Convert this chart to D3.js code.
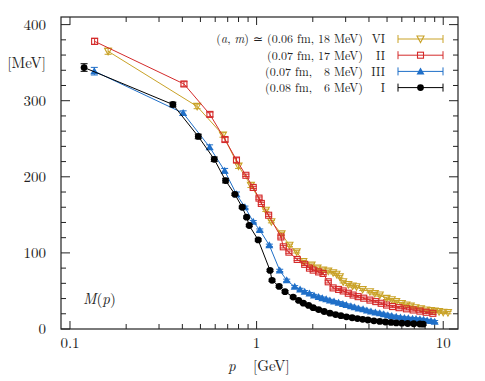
<!DOCTYPE html>
<html>
<head>
<meta charset="utf-8">
<script src="https://cdn.jsdelivr.net/npm/d3@7"></script>
<style>
body{margin:0;background:#fff;}
text{font-family:"Latin Modern Roman","CMU Serif","Liberation Serif",serif;fill:#222;}
</style>
</head>
<body>
<div id="chart"></div>
<script>
// momentum p [GeV] and mass function M(p) [MeV]
var pVI = [0.16, 0.48, 0.66, 0.80, 0.932, 1.12, 1.2, 1.36, 1.5, 1.64, 1.78, 1.97, 2.12, 2.27, 2.42, 2.57, 2.68, 2.79, 2.91, 3.1, 3.27, 3.43, 3.7, 4.05, 4.3, 4.57, 4.97, 5.3, 5.6, 6.0, 6.35, 6.7, 7.1, 7.6, 8.1, 8.6, 9.0, 9.5, 10.0, 10.6];
var mVI = [365, 292.5, 255, 214, 189, 156, 141, 125, 110, 101.4, 88.5, 84, 80, 77.4, 76, 74, 72, 68.6, 62, 58.5, 56.5, 55.5, 52, 49, 46.5, 44.6, 40.3, 38.5, 36, 33.5, 31.5, 30, 28, 26.5, 25, 24.2, 23.5, 22.8, 22, 21.5];

var pII = [0.1355, 0.408, 0.562, 0.677, 0.78, 0.876, 0.959, 1.03, 1.06, 1.16, 1.35, 1.39, 1.49, 1.65, 1.81, 1.92, 2.01, 2.15, 2.27, 2.42, 2.57, 2.75, 2.91, 3.1, 3.29, 3.5, 3.75, 4.05, 4.35, 4.65, 4.97, 5.35, 5.8, 6.35, 6.9, 7.5, 8.1, 8.8];
var mII = [378, 322, 282, 249, 222, 202, 186, 172, 165, 149.5, 121, 108, 101, 91.4, 85, 80, 77.4, 75, 73, 62, 54, 52, 50, 47, 44.6, 42.5, 40.5, 38, 36, 33.8, 31.5, 29.5, 28, 26.5, 25, 23.5, 22, 20.6];

var pIII = [0.135, 0.404, 0.56, 0.674, 0.78, 0.866, 0.959, 1.04, 1.17, 1.33, 1.45, 1.6, 1.71, 1.81, 1.92, 2.03, 2.15, 2.25, 2.36, 2.47, 2.6, 2.75, 2.9, 3.03, 3.2, 3.35, 3.52, 3.72, 3.9, 4.1, 4.33, 4.57, 4.8, 5.05, 5.3, 5.6, 5.9, 6.2, 6.5, 6.85, 7.15, 7.5, 7.85, 8.2, 8.6, 9.0];
var mIII = [338.8, 283.7, 239, 208, 177, 160, 141, 130, 110, 77, 64, 55.5, 52, 49, 46.5, 44, 42, 40.5, 39, 37.5, 36, 34.5, 33, 31.5, 30, 28.5, 27, 25.8, 24.4, 23, 21.8, 20.6, 19.4, 18.2, 17, 16, 15.2, 14.5, 14, 13.5, 13.1, 12.7, 12, 11.2, 10.4, 9.6];

var pI = [0.119, 0.356, 0.487, 0.593, 0.682, 0.765, 0.837, 0.884, 0.913, 1.02, 1.18, 1.21, 1.32, 1.42, 1.57, 1.68, 1.78, 1.9, 2.01, 2.15, 2.3, 2.47, 2.65, 2.83, 3.03, 3.25, 3.47, 3.7, 3.95, 4.25, 4.57, 4.9, 5.25, 5.6, 6.0, 6.45, 6.95, 7.5, 7.8];
var mI = [343.6, 295, 253, 223, 195, 177, 160, 147, 136, 117, 77, 64, 56, 49, 42, 37.5, 34, 31, 28, 25.5, 23, 20.8, 19, 17.5, 16, 14.8, 13.7, 12.7, 11.8, 10.8, 9.9, 9.2, 8.6, 8.0, 7.6, 7.2, 6.9, 6.6, 6.4];

// error bars (MeV) on the low-momentum points, rest are small
var errVI = [4, 3, 3, 3, 3];
var errII = [4, 3, 3, 3, 3];
var errIII = [5, 3, 3, 3, 3];
var errI = [5, 3, 3, 3, 3];

var yTicks = [0, 100, 200, 300, 400];
var xTicks = [0.1, 1, 10];

var series = [
    {name:"VI", a:"0.06", m:"18", p:pVI, v:mVI, e:errVI, color:"#c9a227", sym:"tdown"},
    {name:"II", a:"0.07", m:"17", p:pII, v:mII, e:errII, color:"#d42a2a", sym:"square"},
    {name:"III", a:"0.07", m:"  8", p:pIII, v:mIII, e:errIII, color:"#1f6fc8", sym:"tup"},
    {name:"I", a:"0.08", m:"  6", p:pI, v:mI, e:errI, color:"#000000", sym:"circle"}
];

var W = 485, H = 381;
var margin = {left:61, right:27, top:17, bottom:52};
var x = d3.scaleLog().domain([0.0895, 12]).range([margin.left, W-margin.right]);
var y = d3.scaleLinear().domain([0, 410]).range([H-margin.bottom, margin.top]);

var svg = d3.select("#chart").append("svg").attr("width", W).attr("height", H);

var x0 = x.range()[0], x1 = x.range()[1], y0 = y.range()[0], y1 = y.range()[1];

// ticks (inside, mirrored)
var tk = svg.append("g").attr("stroke", "#222").attr("stroke-width", 1);
var yMinor = d3.range(0, 411, 20);
yMinor.forEach(function(v){
    var len = (v % 100 == 0) ? 9 : 5;
    tk.append("line").attr("x1", x0).attr("x2", x0+len).attr("y1", y(v)).attr("y2", y(v));
    tk.append("line").attr("x1", x1).attr("x2", x1-len).attr("y1", y(v)).attr("y2", y(v));
});
var xAll = [];
[0.1, 1, 10].forEach(function(d){ for(var k=1;k<10;k++){ var t=d*k; if(t>=0.0895 && t<=12) xAll.push(t);} });
xAll.forEach(function(t){
    var major = xTicks.some(function(m){ return Math.abs(m-t)<1e-9; });
    var len = major ? 8 : 5;
    tk.append("line").attr("x1", x(t)).attr("x2", x(t)).attr("y1", y0).attr("y2", y0-len);
    tk.append("line").attr("x1", x(t)).attr("x2", x(t)).attr("y1", y1).attr("y2", y1+len);
});

svg.append("rect").attr("x", x0).attr("y", y1).attr("width", x1-x0).attr("height", y0-y1)
    .attr("fill", "none").attr("stroke", "#222").attr("stroke-width", 1.2);

svg.selectAll(".ylab").data(yTicks).enter().append("text")
    .attr("x", 46).attr("y", function(d){ return y(d)+5; })
    .attr("text-anchor", "end").style("font-size", "15px").text(function(d){ return d; });
svg.selectAll(".xlab").data(xTicks).enter().append("text")
    .attr("x", function(d){ return x(d); }).attr("y", 348)
    .attr("text-anchor", "middle").style("font-size", "15px").text(function(d){ return d; });

svg.append("text").attr("x", 46).attr("y", 68).attr("text-anchor", "end").style("font-size", "15px").text("[MeV]");
var xt = svg.append("text").attr("x", 228).attr("y", 371).style("font-size", "15px");
xt.append("tspan").style("font-style", "italic").text("p");
xt.append("tspan").attr("x", 253).text("[GeV]");
var mp = svg.append("text").attr("x", 83).attr("y", 304).style("font-size", "15px");
mp.append("tspan").style("font-style", "italic").text("M");
mp.append("tspan").text("(");
mp.append("tspan").style("font-style", "italic").text("p");
mp.append("tspan").text(")");

function symbol(g, type, color, cx, cy){
    if(type=="circle"){
        g.append("circle").attr("cx", cx).attr("cy", cy).attr("r", 3.4).attr("fill", color);
    }else if(type=="square"){
        g.append("rect").attr("x", cx-3).attr("y", cy-3).attr("width", 6).attr("height", 6)
            .attr("fill", "none").attr("stroke", color).attr("stroke-width", 1.1);
    }else if(type=="tup"){
        g.append("path").attr("d", d3.line()([[cx-4, cy+3], [cx+4, cy+3], [cx, cy-4]])+"Z").attr("fill", color);
    }else{
        g.append("path").attr("d", d3.line()([[cx-3.5, cy-3], [cx+3.5, cy-3], [cx, cy+3.5]])+"Z")
            .attr("fill", "none").attr("stroke", color).attr("stroke-width", 1.1);
    }
}

var line = d3.line().x(function(d){ return x(d[0]); }).y(function(d){ return y(d[1]); });

series.forEach(function(s){
    var pts = s.p.map(function(p, i){ return [p, s.v[i], s.e[i]!=undefined ? s.e[i] : 1.5]; });
    var g = svg.append("g");
    g.append("path").attr("d", line(pts)).attr("fill", "none").attr("stroke", s.color).attr("stroke-width", 1);
    pts.forEach(function(d){
        var cx = x(d[0]), ya = y(d[1]-d[2]), yb = y(d[1]+d[2]);
        g.append("line").attr("x1", cx).attr("x2", cx).attr("y1", ya).attr("y2", yb).attr("stroke", s.color).attr("stroke-width", 1);
        g.append("line").attr("x1", cx-3.5).attr("x2", cx+3.5).attr("y1", ya).attr("y2", ya).attr("stroke", s.color).attr("stroke-width", 1);
        g.append("line").attr("x1", cx-3.5).attr("x2", cx+3.5).attr("y1", yb).attr("y2", yb).attr("stroke", s.color).attr("stroke-width", 1);
        symbol(g, s.sym, s.color, cx, y(d[1]));
    });
});

// legend
var lg = svg.append("g");
series.forEach(function(s, i){
    var cy = 39 + i*16.2;
    var fs = "12px";
    var t = lg.append("text").attr("x", 363).attr("y", cy+4.3).attr("text-anchor", "end")
        .style("font-size", fs).style("white-space", "pre");
    if(i==0){
        t.append("tspan").text("(");
        t.append("tspan").style("font-style", "italic").text("a");
        t.append("tspan").text(", ");
        t.append("tspan").style("font-style", "italic").text("m");
        t.append("tspan").text(") \u2243 ");
    }
    t.append("tspan").text("(" + s.a + " fm, " + s.m + " MeV)");
    lg.append("text").attr("x", 385).attr("y", cy+4.3).attr("text-anchor", "end").style("font-size", fs).text(s.name);
    lg.append("line").attr("x1", 398).attr("x2", 443).attr("y1", cy).attr("y2", cy).attr("stroke", s.color).attr("stroke-width", 1);
    lg.append("line").attr("x1", 398).attr("x2", 398).attr("y1", cy-4).attr("y2", cy+4).attr("stroke", s.color);
    lg.append("line").attr("x1", 443).attr("x2", 443).attr("y1", cy-4).attr("y2", cy+4).attr("stroke", s.color);
    symbol(lg, s.sym, s.color, 420.5, cy);
});
</script>
</body>
</html>
